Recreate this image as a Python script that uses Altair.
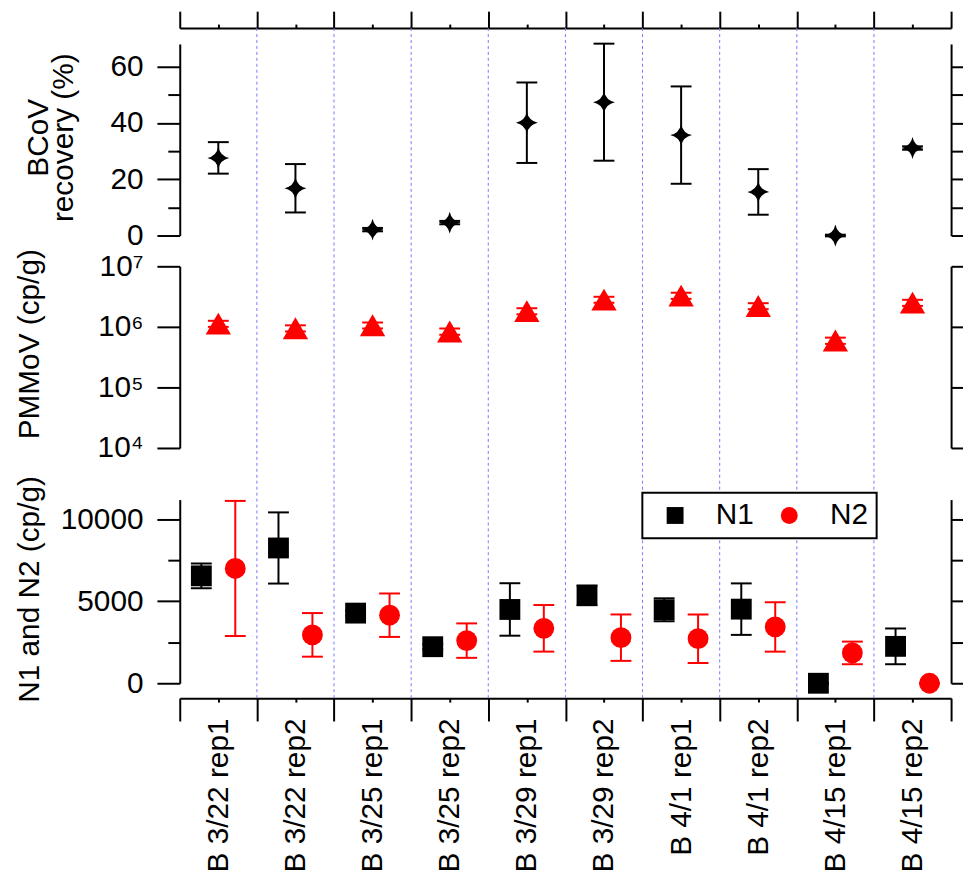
import json
import altair as alt
import pandas as pd

# ---------------- data ----------------
categories = ["B 3/22 rep1", "B 3/22 rep2", "B 3/25 rep1", "B 3/25 rep2", "B 3/29 rep1",
              "B 3/29 rep2", "B 4/1 rep1", "B 4/1 rep2", "B 4/15 rep1", "B 4/15 rep2"]

bcov_recovery = [27.6, 16.8, 2.1, 4.6, 40.1, 47.4, 35.7, 15.5, 0.0, 31.1]
bcov_error = [5.6, 8.6, 0.6, 0.6, 14.3, 20.8, 17.3, 8.1, 0.3, 0.6]

pmmov = [1.13e6, 9.5e5, 1.06e6, 8.4e5, 1.82e6, 2.82e6, 3.28e6, 2.21e6, 5.94e5, 2.51e6]
pmmov_error = [1.3e5, 1.1e5, 1.2e5, 1.0e5, 2.1e5, 3.2e5, 3.8e5, 2.5e5, 7.0e4, 2.9e5]

n1 = [6550, 8250, 4277, 2229, 4500, 5361, 4480, 4520, 0, 2250]
n1_error = [750, 2170, 150, 150, 1600, 600, 700, 1570, 50, 1090]
n2 = [7000, 2950, 4150, 2600, 3350, 2780, 2720, 3434, 1850, 0]
n2_error = [4120, 1330, 1325, 1050, 1420, 1415, 1480, 1506, 690, 0]

series_names = ["N1", "N2"]
series_colors = ["black", "red"]
series_shapes = ["square", "circle"]

bcov_major = [0, 20, 40, 60]
bcov_minor = [10, 30, 50]
pmmov_ticks = [1e4, 1e5, 1e6, 1e7]
pmmov_tick_labels = ["10\u2074", "10\u2075", "10\u2076", "10\u2077"]
n_major = [0, 5000, 10000]
n_minor = [2500, 7500]

# ---------------- layout constants ----------------
W, H = 777, 675
FONT = "Liberation Sans"
FS = 30
N = len(categories)
centers = [i + 0.5 for i in range(N)]
bounds = list(range(N + 1))
inner = bounds[1:-1]
OFF = 0.22

STAR = "M0,-1 Q0.17,-0.17 1,0 Q0.17,0.17 0,1 Q-0.17,0.17 -1,0 Q-0.17,-0.17 0,-1 Z"

bc_df = pd.DataFrame({"cat": categories, "x": centers, "v": bcov_recovery,
                      "lo": [v - e for v, e in zip(bcov_recovery, bcov_error)],
                      "hi": [v + e for v, e in zip(bcov_recovery, bcov_error)]})
pm_df = pd.DataFrame({"cat": categories, "x": centers, "v": pmmov,
                      "lo": [v - e for v, e in zip(pmmov, pmmov_error)],
                      "hi": [v + e for v, e in zip(pmmov, pmmov_error)]})
n1_df = pd.DataFrame({"cat": categories, "x": [c - OFF for c in centers], "v": n1, "series": "N1",
                      "lo": [v - e for v, e in zip(n1, n1_error)],
                      "hi": [v + e for v, e in zip(n1, n1_error)]})
n2_df = pd.DataFrame({"cat": categories, "x": [c + OFF for c in centers], "v": n2, "series": "N2",
                      "lo": [v - e for v, e in zip(n2, n2_error)],
                      "hi": [v + e for v, e in zip(n2, n2_error)]})
n_df = pd.concat([n1_df, n2_df], ignore_index=True)
grid_df = pd.DataFrame({"b": inner})

# ---------------- scales ----------------
XS = alt.Scale(domain=[0, N], nice=False, zero=False)
BC = alt.Scale(domain=[0, 68.1], range=[209, 16], nice=False, zero=False)
PM = alt.Scale(type="log", domain=[1e4, 1e7], range=[423, 240], nice=False)
NS = alt.Scale(domain=[0, 11200], range=[660, 475], nice=False, zero=False)


def xenc(field, axis=None):
    if axis is None:
        return alt.X(field, type="quantitative", scale=XS, axis=None)
    return alt.X(field, type="quantitative", scale=XS, axis=axis)


def yenc(field, scale, axis=None):
    if axis is None:
        return alt.Y(field, type="quantitative", scale=scale, axis=None)
    return alt.Y(field, type="quantitative", scale=scale, axis=axis)


# ---------------- axes ----------------
x_top_major = alt.Axis(orient="top", values=bounds, tickSize=17, labels=False, title=None, domain=True)
x_top_minor = alt.Axis(orient="top", values=centers, tickSize=4, labels=False, title=None, domain=False)
x_bot_major = alt.Axis(orient="bottom", values=bounds, tickSize=23, labels=False, title=None, domain=True)
x_bot_labels = alt.Axis(orient="bottom", values=centers, tickSize=4, domain=False, title=None,
                        labelAngle=270, labelPadding=16,
                        labelExpr=json.dumps(categories) + "[floor(datum.value)]")


def left_major(values, title, tx, ty, label_expr=None, fmt=None):
    kw = dict(orient="left", values=values, tickSize=23, labelPadding=14, title=title,
              titleX=tx, titleY=ty, titleBaseline="alphabetic", titleLineHeight=25, domain=True)
    if label_expr is not None:
        kw["labelExpr"] = label_expr
    if fmt is not None:
        kw["format"] = fmt
    return alt.Axis(**kw)


def left_minor(values):
    return alt.Axis(orient="left", values=values, tickSize=12, labels=False, title=None, domain=False)


def right_axis(values, size, domain):
    return alt.Axis(orient="right", values=values, tickSize=size, labels=False, title=None, domain=domain)


# ---------------- layers ----------------
grid = alt.Chart(grid_df).mark_rule(color="#7878ff", strokeDash=[3, 3], strokeWidth=1).encode(
    x=xenc("b", x_top_major), y=alt.value(0), y2=alt.value(H))

# BCoV
bc_rule = alt.Chart(bc_df).mark_rule(color="black", strokeWidth=2).encode(
    x=xenc("x"), y=yenc("lo", BC, left_minor(bcov_minor)), y2="hi")
bc_cap_hi = alt.Chart(bc_df).mark_tick(color="black", orient="horizontal", size=21, thickness=2, opacity=1).encode(
    x=xenc("x"), y=yenc("hi", BC, right_axis(bcov_major, 23, True)))
bc_cap_lo = alt.Chart(bc_df).mark_tick(color="black", orient="horizontal", size=21, thickness=2, opacity=1).encode(
    x=xenc("x"), y=yenc("lo", BC, right_axis(bcov_minor, 12, False)))
bc_pts = alt.Chart(bc_df).mark_point(shape=STAR, filled=True, size=484, color="black", opacity=1).encode(
    x=xenc("x", x_top_minor),
    y=yenc("v", BC, left_major(bcov_major, ["BCoV", "recovery (%)"], -133, 110)))

# PMMoV
pm_label_expr = json.dumps(pmmov_tick_labels, ensure_ascii=False) + "[round(log(datum.value)/LN10) - 4]"
pm_pts = alt.Chart(pm_df).mark_point(shape="triangle-up", filled=True, size=650, color="red", opacity=1).encode(
    x=xenc("x"),
    y=yenc("v", PM, left_major(pmmov_ticks, "PMMoV (cp/g)", -142, 318, pm_label_expr)))
pm_rule = alt.Chart(pm_df).mark_rule(color="red", strokeWidth=2).encode(
    x=xenc("x"), y=yenc("lo", PM, right_axis(pmmov_ticks, 23, True)), y2="hi")
pm_cap_hi = alt.Chart(pm_df).mark_tick(color="red", orient="horizontal", size=21, thickness=2, opacity=1).encode(
    x=xenc("x"), y=yenc("hi", PM))
pm_cap_lo = alt.Chart(pm_df).mark_tick(color="red", orient="horizontal", size=21, thickness=2, opacity=1).encode(
    x=xenc("x"), y=yenc("lo", PM))

# N1 / N2
n1_rule = alt.Chart(n1_df).mark_rule(color="black", strokeWidth=2).encode(
    x=xenc("x", x_bot_major), y=yenc("lo", NS, left_minor(n_minor)), y2="hi")
n2_rule = alt.Chart(n2_df).mark_rule(color="red", strokeWidth=2).encode(
    x=xenc("x"), y=yenc("lo", NS, right_axis(n_major, 23, True)), y2="hi")
n1_cap_hi = alt.Chart(n1_df).mark_tick(color="black", orient="horizontal", size=21, thickness=2, opacity=1).encode(
    x=xenc("x"), y=yenc("hi", NS, right_axis(n_minor, 12, False)))
n1_cap_lo = alt.Chart(n1_df).mark_tick(color="black", orient="horizontal", size=21, thickness=2, opacity=1).encode(
    x=xenc("x"), y=yenc("lo", NS))
n2_cap_hi = alt.Chart(n2_df).mark_tick(color="red", orient="horizontal", size=21, thickness=2, opacity=1).encode(
    x=xenc("x"), y=yenc("hi", NS))
n2_cap_lo = alt.Chart(n2_df).mark_tick(color="red", orient="horizontal", size=21, thickness=2, opacity=1).encode(
    x=xenc("x"), y=yenc("lo", NS))

legend = alt.Legend(orient="none", legendX=466, legendY=468, direction="horizontal", title=None,
                    symbolSize=289, symbolOffset=10, labelOffset=26, columnPadding=10, padding=8,
                    labelFontSize=FS, labelFont=FONT, labelColor="black",
                    strokeColor="black", fillColor="white", symbolStrokeWidth=0)
n_pts = alt.Chart(n_df).mark_point(filled=True, size=441, opacity=1).encode(
    x=xenc("x", x_bot_labels),
    y=yenc("v", NS, left_major(n_major, "N1 and N2 (cp/g)", -142, 565, fmt="d")),
    color=alt.Color("series:N", scale=alt.Scale(domain=series_names, range=series_colors), legend=legend),
    shape=alt.Shape("series:N", scale=alt.Scale(domain=series_names, range=series_shapes), legend=legend),
)

chart = alt.layer(
    grid,
    bc_rule, bc_cap_hi, bc_cap_lo, bc_pts,
    pm_pts, pm_rule, pm_cap_hi, pm_cap_lo,
    n1_rule, n2_rule, n1_cap_hi, n1_cap_lo, n2_cap_hi, n2_cap_lo, n_pts,
).resolve_scale(y="independent").resolve_axis(y="independent", x="independent").properties(
    width=W, height=H,
    autosize=alt.AutoSizeParams(type="none"),
    padding={"left": 173, "top": 17, "right": 12, "bottom": 182},
).configure(font=FONT).configure_view(strokeWidth=0).configure_axis(
    grid=False, domainColor="black", domainWidth=2, tickColor="black", tickWidth=2,
    labelFont=FONT, labelFontSize=FS, labelColor="black", labelFlush=False, labelOverlap=False,
    titleFont=FONT, titleFontSize=FS, titleFontWeight="normal", titleColor="black",
).configure_legend(strokeWidth=2)

chart.save("out.html", embed_options={"renderer": "svg", "actions": False})
